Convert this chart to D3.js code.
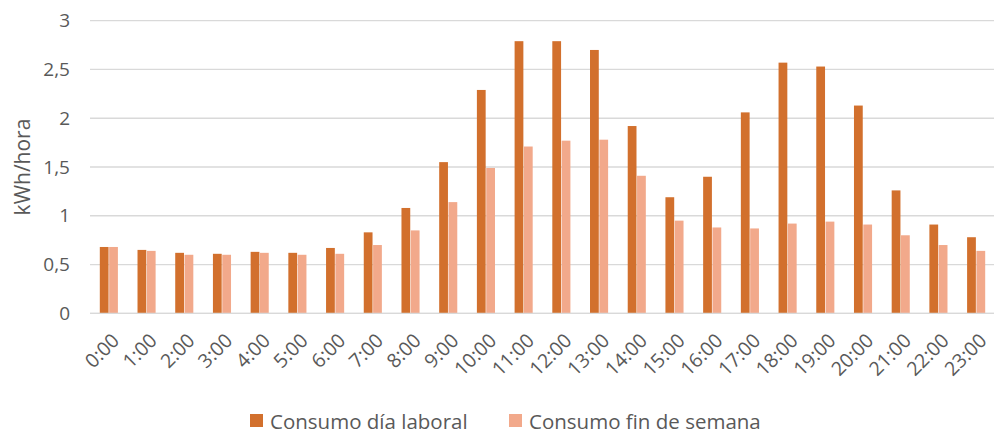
<!DOCTYPE html>
<html>
<head>
<meta charset="utf-8">
<script src="https://cdn.jsdelivr.net/npm/d3@7"></script>
<style>
  body { margin: 0; background: #fff; }
  text { font-family: "Open Sans", "Noto Sans", sans-serif; fill: #595959; }
</style>
</head>
<body>
<svg id="chart"></svg>
<script>
const hours = ["0:00","1:00","2:00","3:00","4:00","5:00","6:00","7:00","8:00","9:00","10:00","11:00",
  "12:00","13:00","14:00","15:00","16:00","17:00","18:00","19:00","20:00","21:00","22:00","23:00"];
const laboral = [0.68,0.65,0.62,0.61,0.63,0.62,0.67,0.83,1.08,1.55,2.29,2.79,
  2.79,2.70,1.92,1.19,1.40,2.06,2.57,2.53,2.13,1.26,0.91,0.78];
const finSemana = [0.68,0.64,0.60,0.60,0.62,0.60,0.61,0.70,0.85,1.14,1.49,1.71,
  1.77,1.78,1.41,0.95,0.88,0.87,0.92,0.94,0.91,0.80,0.70,0.64];
const seriesNames = ["Consumo día laboral", "Consumo fin de semana"];
const yTicks = [0, 0.5, 1, 1.5, 2, 2.5, 3];

const width = 994, height = 433;
const margin = { top: 20.7, right: -1, bottom: 119.7, left: 90 };
const colors = ["#D2702D", "#F2A98B"];

const svg = d3.select("#chart").attr("width", width).attr("height", height);

const x0 = d3.scaleBand()
  .domain(hours)
  .range([margin.left, width - margin.right])
  .paddingInner(0.52)
  .paddingOuter(0.26);

const x1 = d3.scaleBand()
  .domain([0, 1])
  .range([0, x0.bandwidth()])
  .paddingInner(0.06);

const y = d3.scaleLinear()
  .domain([0, 3])
  .range([height - margin.bottom, margin.top]);

// gridlines
svg.append("g")
  .selectAll("line")
  .data(yTicks)
  .enter()
  .append("line")
  .attr("x1", margin.left)
  .attr("x2", width - margin.right)
  .attr("y1", d => y(d))
  .attr("y2", d => y(d))
  .attr("stroke", "#D9D9D9")
  .attr("stroke-width", 1.3);

// y tick labels
svg.append("g")
  .selectAll("text")
  .data(yTicks)
  .enter()
  .append("text")
  .attr("x", 70)
  .attr("y", d => y(d))
  .attr("dy", "0.35em")
  .attr("text-anchor", "end")
  .style("font-size", "19px")
  .text(d => String(d).replace(".", ","));

// y axis title
svg.append("text")
  .attr("transform", `translate(30,${(y(0) + y(3)) / 2}) rotate(-90)`)
  .attr("text-anchor", "middle")
  .style("font-size", "21px")
  .text("kWh/hora");

// bars
const rows = hours.map((h, i) => ({ hour: h, values: [laboral[i], finSemana[i]] }));

const groups = svg.append("g")
  .selectAll("g")
  .data(rows)
  .enter()
  .append("g")
  .attr("transform", d => `translate(${x0(d.hour)},0)`);

groups.selectAll("rect")
  .data(d => d.values.map((v, k) => ({ k, v })))
  .enter()
  .append("rect")
  .attr("x", d => x1(d.k))
  .attr("width", x1.bandwidth())
  .attr("y", d => y(d.v))
  .attr("height", d => y(0) - y(d.v))
  .attr("fill", d => colors[d.k]);

// baseline over bars
svg.append("line")
  .attr("x1", margin.left)
  .attr("x2", width - margin.right)
  .attr("y1", y(0))
  .attr("y2", y(0))
  .attr("stroke", "#D9D9D9")
  .attr("stroke-width", 1.3);

// x labels
svg.append("g")
  .selectAll("text")
  .data(hours)
  .enter()
  .append("text")
  .attr("transform", d => `translate(${x0(d) + x0.bandwidth() / 2 + 2},${y(0) + 19}) rotate(-45)`)
  .attr("text-anchor", "end")
  .attr("dy", "0.7em")
  .style("font-size", "19.5px")
  .text(d => d);

// legend
const legendX = [250, 509];
const legend = svg.append("g")
  .selectAll("g")
  .data(seriesNames)
  .enter()
  .append("g")
  .attr("transform", (d, i) => `translate(${legendX[i]},414)`);

legend.append("rect")
  .attr("width", 13)
  .attr("height", 13)
  .attr("fill", (d, i) => colors[i]);

legend.append("text")
  .attr("x", 20)
  .attr("y", 14.5)
  .style("font-size", "20.5px")
  .text(d => d);
</script>
</body>
</html>
